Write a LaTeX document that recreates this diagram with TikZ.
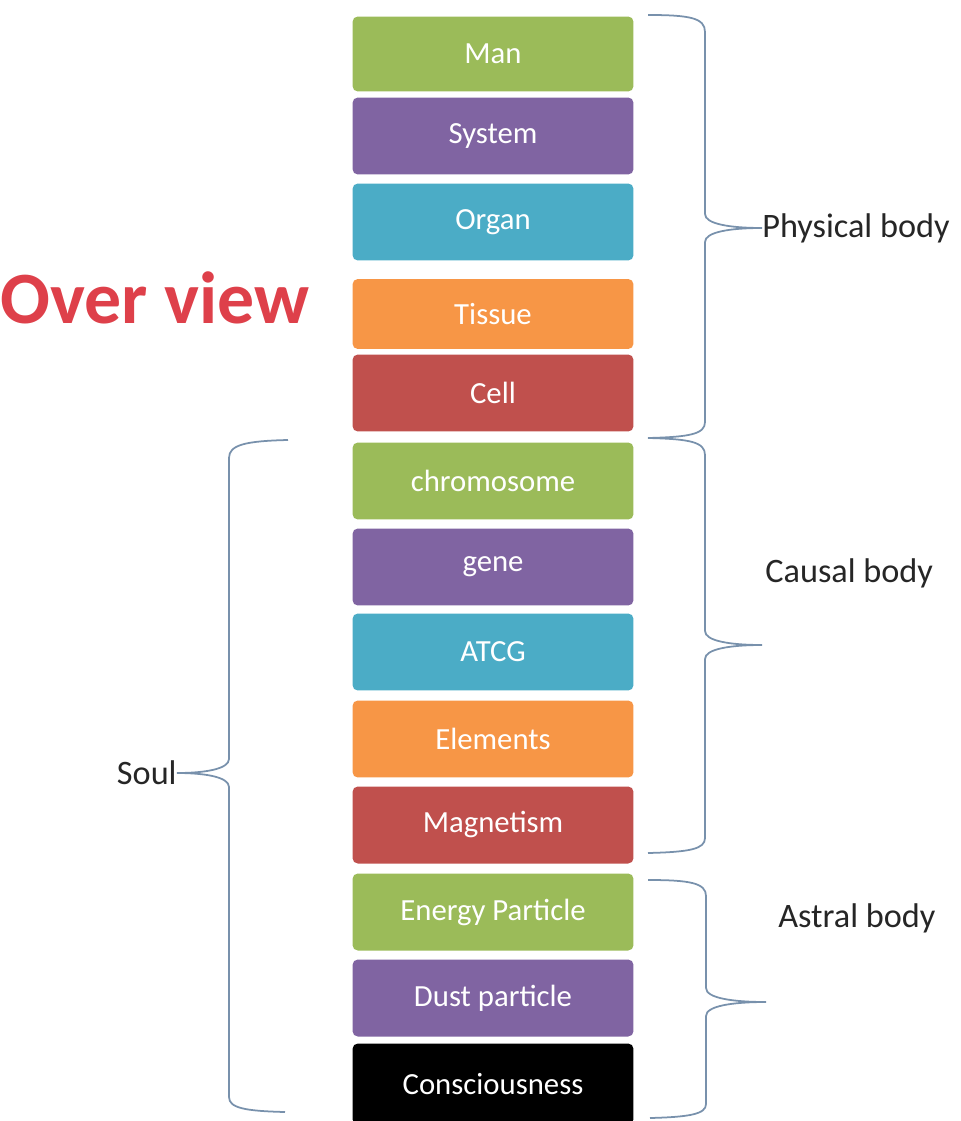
\documentclass[tikz,border=0pt]{standalone}
\usepackage{fontspec}
\setmainfont{Carlito}
\definecolor{lgreen}{RGB}{155,187,89}
\definecolor{lpurple}{RGB}{128,100,162}
\definecolor{lcyan}{RGB}{75,172,198}
\definecolor{lorange}{RGB}{247,150,70}
\definecolor{lred}{RGB}{192,80,77}
\definecolor{bracecol}{RGB}{120,145,172}
\definecolor{titlered}{RGB}{222,64,74}

\begin{document}
\begin{tikzpicture}[x=0.02cm,y=-0.02cm,
    layer/.style={rounded corners=3pt, minimum width=5.62cm, minimum height=1.54cm,
                  inner sep=0pt, text=white, font=\fontsize{17.5}{20}\selectfont},
    bodylabel/.style={inner sep=0pt, text=black!85, font=\fontsize{19.5}{22}\selectfont},
    bracket/.style={draw=bracecol, line width=1pt}]

    \useasboundingbox (0,0) rectangle (960,1121);

    \node[font=\fontsize{42}{48}\selectfont\bfseries, text=titlered] (title) at (155,298) {Over view};

    % the column of layers
    \node[layer, fill=lgreen, minimum height=1.50cm] (man) at (493,54) {Man};
    \node[layer, fill=lpurple] (system) at (493,136) {System};
    \node[layer, fill=lcyan] (organ) at (493,222) {Organ};
    \node[layer, fill=lorange, minimum height=1.40cm] (tissue) at (493,314) {Tissue};
    \node[layer, fill=lred] (cell) at (493,393) {Cell};
    \node[layer, fill=lgreen] (chromosome) at (493,481) {chromosome};
    \node[layer, fill=lpurple] (gene) at (493,567) {gene};
    \node[layer, fill=lcyan] (atcg) at (493,652) {ATCG};
    \node[layer, fill=lorange] (elements) at (493,739) {Elements};
    \node[layer, fill=lred] (magnetism) at (493,825) {Magnetism};
    \node[layer, fill=lgreen] (energy) at (493,912) {Energy Particle};
    \node[layer, fill=lpurple] (dust) at (493,998) {Dust particle};
    \node[layer, fill=black, minimum height=1.62cm] (consc) at (493,1084) {Consciousness};

    % labels
    \node[bodylabel, anchor=west] (physical) at (762,228) {Physical body};
    \node[bodylabel, anchor=west] (causal) at (765,573) {Causal body};
    \node[bodylabel, anchor=west] (astral) at (778,918) {Astral body};
    \node[bodylabel, anchor=east] (soul) at (177,773) {Soul};

    \coordinate (causaltip) at (762,645);
    \coordinate (astraltip) at (766,1002);

    % braces
    \draw[bracket] (648,15) .. controls (690,15) and (705,18) .. (705,32)
        -- (705,214) .. controls (705,224) and (730,228) .. (physical.west)
        .. controls (730,228) and (705,232) .. (705,242)
        -- (705,422) .. controls (705,434) and (690,437) .. (648,438);
    \draw[bracket] (648,438) .. controls (690,439) and (705,442) .. (705,455)
        -- (705,631) .. controls (705,641) and (730,645) .. (causaltip)
        .. controls (730,645) and (705,649) .. (705,659)
        -- (705,838) .. controls (705,849) and (690,852) .. (648,853);
    \draw[bracket] (648,880) .. controls (690,880) and (706,883) .. (706,896)
        -- (706,988) .. controls (706,998) and (732,1002) .. (astraltip)
        .. controls (732,1002) and (706,1006) .. (706,1016)
        -- (706,1104) .. controls (706,1114) and (690,1117) .. (650,1118);
    \draw[bracket] (288,440) .. controls (245,441) and (229,445) .. (229,458)
        -- (229,759) .. controls (229,769) and (205,773) .. (soul.east)
        .. controls (205,773) and (229,777) .. (229,787)
        -- (229,1097) .. controls (229,1108) and (245,1111) .. (285,1112);

\end{tikzpicture}
\end{document}
